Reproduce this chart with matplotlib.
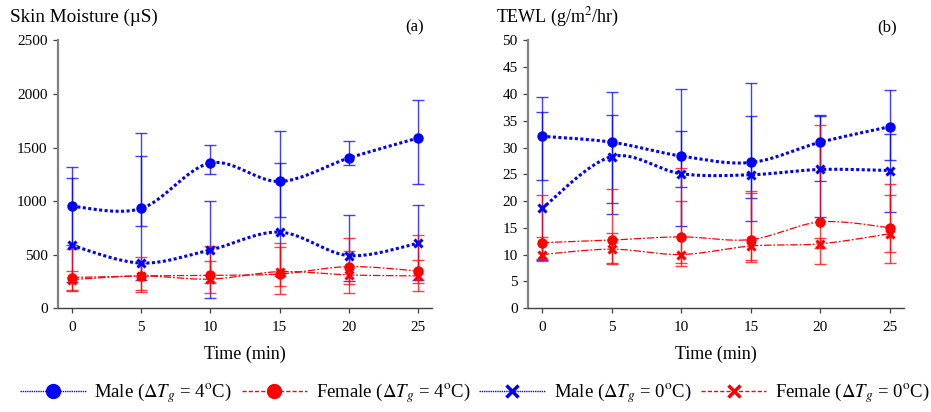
import numpy as np
import matplotlib
matplotlib.use("Agg")
import matplotlib.pyplot as plt
from matplotlib.lines import Line2D

# --- DATA ---
time_min = [0, 5, 10, 15, 20, 25]

# (a) Skin moisture (uS): means and error bar bounds
sm_male4 = [950, 930, 1355, 1183, 1402, 1589]
sm_male4_lo = [590, 771, 1252, 849, 1333, 1158]
sm_male4_hi = [1314, 1635, 1526, 1651, 1557, 1948]
sm_male0 = [585, 420, 543, 709, 490, 606]
sm_male0_lo = [246, 262, 90, 300, 250, 262]
sm_male0_hi = [1214, 1417, 999, 1355, 871, 961]
sm_fem4 = [285, 300, 305, 318, 387, 346]
sm_fem4_lo = [162, 147, 138, 131, 138, 162]
sm_fem4_hi = [550, 475, 580, 611, 653, 683]
sm_fem0 = [265, 300, 270, 340, 309, 300]
sm_fem0_lo = [165, 170, 231, 209, 225, 237]
sm_fem0_hi = [346, 420, 443, 568, 537, 450]

# (b) TEWL (g/m2/hr)
tw_male4 = [32.1, 31.0, 28.4, 27.2, 31.0, 33.9]
tw_male4_lo = [24.0, 19.6, 15.3, 16.3, 23.8, 27.7]
tw_male4_hi = [39.5, 40.3, 41.0, 42.0, 36.1, 40.8]
tw_male0 = [18.6, 28.3, 25.1, 24.9, 25.9, 25.7]
tw_male0_lo = [9.0, 17.5, 22.6, 20.5, 17.1, 17.9]
tw_male0_hi = [36.7, 36.1, 33.0, 35.9, 35.8, 32.5]
tw_fem4 = [12.2, 12.7, 13.3, 12.8, 16.1, 15.0]
tw_fem4_lo = [8.7, 8.5, 8.5, 8.6, 8.2, 8.5]
tw_fem4_hi = [21.2, 22.2, 26.1, 21.8, 34.2, 21.1]
tw_fem0 = [10.0, 11.0, 10.0, 11.6, 12.0, 13.9]
tw_fem0_lo = [9.1, 8.2, 7.9, 9.0, 11.2, 10.4]
tw_fem0_hi = [13.3, 14.0, 20.0, 21.5, 13.0, 23.2]

legend_labels = [r'Male ($\Delta T_g$ = 4$^{\rm o}$C)', r'Female ($\Delta T_g$ = 4$^{\rm o}$C)',
                 r'Male ($\Delta T_g$ = 0$^{\rm o}$C)', r'Female ($\Delta T_g$ = 0$^{\rm o}$C)']

# --- STYLE ---
plt.rcParams['font.family'] = ['Liberation Serif', 'DejaVu Serif']
plt.rcParams['mathtext.fontset'] = 'stix'
BLUE = '#0000ff'
RED = '#ff0000'
MALE_LS = (0, (1, 0.8))
FEM_LS = (0, (6, 1.5, 1.5, 1.5))


def smooth_curve(ax, x, y, n=40):
    # Excel-like smoothed line: cubic Bezier with Catmull-Rom tangents in screen scale
    x0, x1 = ax.get_xlim()
    y0, y1 = ax.get_ylim()
    bb = ax.get_position()
    fw, fh = ax.figure.get_size_inches()
    sx = bb.width * fw / (x1 - x0)
    sy = bb.height * fh / (y1 - y0)
    p = np.column_stack([np.asarray(x, float) * sx, np.asarray(y, float) * sy])
    m = len(p)
    tang = np.zeros_like(p)
    for i in range(m):
        a = p[max(i - 1, 0)]
        b = p[min(i + 1, m - 1)]
        tang[i] = (b - a) / 6.0
    t = np.linspace(0, 1, n)[:, None]
    pts = []
    for i in range(m - 1):
        c0 = p[i]
        c1 = p[i] + tang[i]
        c2 = p[i + 1] - tang[i + 1]
        c3 = p[i + 1]
        seg = ((1 - t) ** 3) * c0 + 3 * ((1 - t) ** 2) * t * c1 + 3 * (1 - t) * t ** 2 * c2 + t ** 3 * c3
        pts.append(seg if i == 0 else seg[1:])
    pts = np.vstack(pts)
    return pts[:, 0] / sx, pts[:, 1] / sy


def draw_series(ax, y, lo, hi, color, marker, ls, lw, err_alpha):
    y = np.asarray(y, float)
    yerr = [y - np.asarray(lo, float), np.asarray(hi, float) - y]
    ax.errorbar(time_min, y, yerr=yerr, fmt='none', ecolor=color, elinewidth=1.0,
                capsize=4, capthick=1.0, alpha=err_alpha, zorder=2)
    xs, ys = smooth_curve(ax, time_min, y)
    ax.plot(xs, ys, color=color, linestyle=ls, linewidth=lw, dash_capstyle='butt', zorder=3)
    if marker == 'o':
        ax.plot(time_min, y, linestyle='none', marker='o', markersize=6.5, color=color, zorder=4)
    else:
        ax.plot(time_min, y, linestyle='none', marker='x', markersize=6, markeredgewidth=2.2,
                color=color, zorder=4)


def setup_axes(ax, ymax, ystep):
    ax.set_xlim(-1, 26)
    ax.set_ylim(0, ymax)
    ax.set_xticks(time_min)
    ax.set_yticks(np.arange(0, ymax + ystep / 2, ystep))
    for s in ['top', 'right']:
        ax.spines[s].set_visible(False)
    ax.spines['left'].set_color('#808080')
    ax.spines['left'].set_linewidth(1.6)
    ax.spines['bottom'].set_color('#404040')
    ax.spines['bottom'].set_linewidth(1.0)
    ax.tick_params(axis='both', direction='out', length=3.5, width=0.9, colors='#404040',
                   labelsize=11, labelcolor='black', pad=4)
    ax.tick_params(axis='x', pad=6)
    ax.set_xlabel('Time (min)', fontsize=13, labelpad=8)


fig = plt.figure(figsize=(9.31, 4.12), dpi=100)
ax1 = fig.add_axes([0.0623, 0.2524, 0.4017, 0.6493])
ax2 = fig.add_axes([0.5671, 0.2524, 0.4039, 0.6493])

setup_axes(ax1, 2500, 500)
setup_axes(ax2, 50, 5)

# --- PANEL (a) ---
draw_series(ax1, sm_male4, sm_male4_lo, sm_male4_hi, BLUE, 'o', MALE_LS, 2.2, 0.75)
draw_series(ax1, sm_male0, sm_male0_lo, sm_male0_hi, BLUE, 'x', MALE_LS, 2.2, 0.75)
draw_series(ax1, sm_fem4, sm_fem4_lo, sm_fem4_hi, RED, 'o', FEM_LS, 0.9, 0.75)
draw_series(ax1, sm_fem0, sm_fem0_lo, sm_fem0_hi, RED, 'x', FEM_LS, 0.9, 0.75)

# --- PANEL (b) ---
draw_series(ax2, tw_male4, tw_male4_lo, tw_male4_hi, BLUE, 'o', MALE_LS, 2.2, 0.75)
draw_series(ax2, tw_male0, tw_male0_lo, tw_male0_hi, BLUE, 'x', MALE_LS, 2.2, 0.75)
draw_series(ax2, tw_fem4, tw_fem4_lo, tw_fem4_hi, RED, 'o', FEM_LS, 0.9, 0.75)
draw_series(ax2, tw_fem0, tw_fem0_lo, tw_fem0_hi, RED, 'x', FEM_LS, 0.9, 0.75)

# --- TITLES ---
fig.text(10 / 931, 1 - 17 / 412, 'Skin Moisture (\u00b5S)', fontsize=13.8, va='center', ha='left')
fig.text(415 / 931, 1 - 27 / 412, '(a)', fontsize=12, va='center', ha='center')
fig.text(496 / 931, 1 - 17 / 412, r'TEWL (g/m$^2$/hr)', fontsize=13, va='center', ha='left')
fig.text(887 / 931, 1 - 27 / 412, '(b)', fontsize=12, va='center', ha='center')

# --- LEGEND ---
handles = [
    Line2D([], [], color=BLUE, linestyle=(0, (1, 0.6)), linewidth=1.0, marker='o', markersize=10),
    Line2D([], [], color=RED, linestyle=(0, (3, 1.5)), linewidth=1.0, marker='o', markersize=10),
    Line2D([], [], color=BLUE, linestyle=(0, (1, 0.6)), linewidth=1.0, marker='x', markersize=9,
           markeredgewidth=2.5),
    Line2D([], [], color=RED, linestyle=(0, (3, 1.5)), linewidth=1.0, marker='x', markersize=9,
           markeredgewidth=2.5),
]
fig.legend(handles, legend_labels, loc='center', bbox_to_anchor=(0.51, 1 - 393 / 412), ncol=4,
           frameon=False, fontsize=13.5, handlelength=3.5, handletextpad=0.45, columnspacing=0.5,
           borderaxespad=0)

fig.savefig('out.png', dpi=100)
